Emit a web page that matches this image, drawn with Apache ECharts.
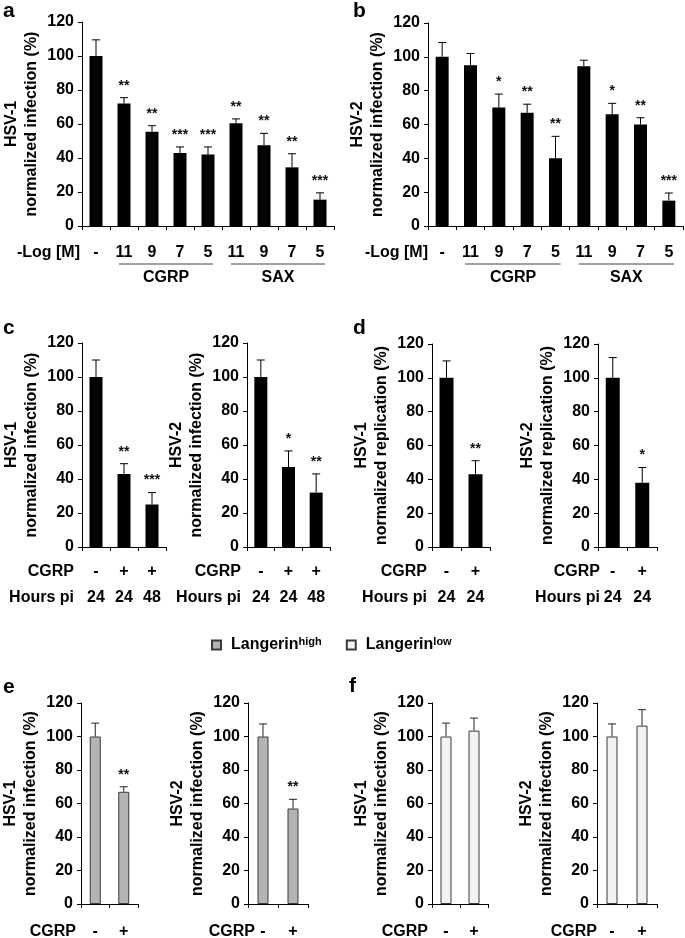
<!DOCTYPE html>
<html><head><meta charset="utf-8">
<script src="https://cdn.jsdelivr.net/npm/echarts@6/dist/echarts.min.js"></script>
<style>html,body{margin:0;padding:0;background:#fff}#c{width:685px;height:938px}</style>
</head><body><div id="c"></div>
<script>
// ---------- data ----------
const catsA = ['-','11','9','7','5','11','9','7','5'];
const meanA = [100,72,55.5,43,42,60.5,47.5,34.5,15.5];
const errA  = [9.5,3.5,3.5,3.5,4.5,2.5,7,8,4];
const starsA = ['','**','**','***','***','**','**','**','***'];

const catsB = ['-','11','9','7','5','11','9','7','5'];
const meanB = [100,95,70,67,40,94.5,66,60,15];
const errB  = [8.5,7,8,5,13,3.5,6.5,4,4.5];
const starsB = ['','','*','**','**','','*','**','***'];

const groupNames = ['CGRP','SAX'];
const groupStart = [1,5];
const groupEnd   = [4,8];

const cgrpC  = ['-','+','+'];
const hoursC = ['24','24','48'];
const meanC1 = [100,43,25];   const errC1 = [10,6,7];     const starsC1 = ['','**','***'];
const meanC2 = [100,47,32];   const errC2 = [10,9.5,11];  const starsC2 = ['','*','**'];

const cgrpD  = ['-','+'];
const hoursD = ['24','24'];
const meanD1 = [100,43];      const errD1 = [10,8];       const starsD1 = ['','**'];
const meanD2 = [100,38];      const errD2 = [12,9];       const starsD2 = ['','*'];

const cgrpEF = ['-','+'];
const meanE1 = [100,67];      const errE1 = [8,3];        const starsE1 = ['','**'];
const meanE2 = [100,57];      const errE2 = [7.5,5.5];    const starsE2 = ['','**'];
const meanF1 = [100,103.5];   const errF1 = [8,7.5];      const starsF1 = ['',''];
const meanF2 = [100,106.5];   const errF2 = [7.5,9.5];    const starsF2 = ['',''];

const yMin = 0, yMax = 120, yStep = 20;
const legendNames = ['Langerin high','Langerin low'];

// ---------- layout ----------
const FONT = '"Liberation Sans", Arial, Helvetica, sans-serif';
const FS = 16;
const two = (a,b) => a.map((v,i) => v + '\n' + b[i]);
const panels = [
  {rect:[82,22,252,204],  cats:catsA, mean:meanA, err:errA, stars:starsA, yName:'HSV-1\nnormalized infection (%)', xName:'-Log [M]', gap:2, margin:14, barW:13, fill:'#000', edge:'#000', groups:true},
  {rect:[428,23,255,203], cats:catsB, mean:meanB, err:errB, stars:starsB, yName:'HSV-2\nnormalized infection (%)', xName:'-Log [M]', gap:0, margin:14, barW:13, fill:'#000', edge:'#000', groups:true},
  {rect:[82,343,84,204],  cats:two(cgrpC,hoursC), mean:meanC1, err:errC1, stars:starsC1, yName:'HSV-1\nnormalized infection (%)', xName:'CGRP\nHours pi', gap:8, margin:12, barW:13, fill:'#000', edge:'#000'},
  {rect:[247,343,83,204], cats:two(cgrpC,hoursC), mean:meanC2, err:errC2, stars:starsC2, yName:'HSV-2\nnormalized infection (%)', xName:'CGRP\nHours pi', gap:6, margin:12, barW:13, fill:'#000', edge:'#000'},
  {rect:[432,344,58,203], cats:two(cgrpD,hoursD), mean:meanD1, err:errD1, stars:starsD1, yName:'HSV-1\nnormalized replication (%)', xName:'CGRP\nHours pi', gap:5, margin:12, barW:14, fill:'#000', edge:'#000'},
  {rect:[598,344,59,203], cats:two(cgrpD,hoursD), mean:meanD2, err:errD2, stars:starsD2, yName:'HSV-2\nnormalized replication (%)', xName:'CGRP\nHours pi', gap:-2, margin:12, barW:14, fill:'#000', edge:'#000'},
  {rect:[81,703,57,201],  cats:cgrpEF, mean:meanE1, err:errE1, stars:starsE1, yName:'HSV-1\nnormalized infection (%)', xName:'CGRP', gap:5, margin:15, barW:11, fill:'#b4b4b4', edge:'#3a3a3a', sname:legendNames[0]},
  {rect:[248,703,60,201], cats:cgrpEF, mean:meanE2, err:errE2, stars:starsE2, yName:'HSV-2\nnormalized infection (%)', xName:'CGRP', gap:-7, margin:15, barW:11, fill:'#b4b4b4', edge:'#3a3a3a', sname:legendNames[0]},
  {rect:[432,703,56,201], cats:cgrpEF, mean:meanF1, err:errF1, stars:starsF1, yName:'HSV-1\nnormalized infection (%)', xName:'CGRP', gap:4, margin:15, barW:11, fill:'#f2f2f2', edge:'#3a3a3a', sname:legendNames[1]},
  {rect:[597,703,60,201], cats:cgrpEF, mean:meanF2, err:errF2, stars:starsF2, yName:'HSV-2\nnormalized infection (%)', xName:'CGRP', gap:0, margin:15, barW:11, fill:'#f2f2f2', edge:'#3a3a3a', sname:legendNames[1]}
];

function errRender(stars, color) {
  return function (params, api) {
    const x = api.value(0);
    const p0 = api.coord([x, api.value(1)]);
    const p1 = api.coord([x, api.value(2)]);
    const cap = 4;
    const ch = [
      {type:'line', shape:{x1:p0[0], y1:p0[1], x2:p1[0], y2:p1[1]}, style:{stroke:color, lineWidth:1}},
      {type:'line', shape:{x1:p1[0]-cap, y1:p1[1], x2:p1[0]+cap, y2:p1[1]}, style:{stroke:color, lineWidth:1}}
    ];
    const s = stars[params.dataIndex];
    if (s) ch.push({type:'text', style:{text:s, x:p1[0], y:p1[1]-5, align:'center', verticalAlign:'bottom',
      fontSize:14, fontWeight:'bold', fontFamily:FONT, fill:'#111'}});
    return {type:'group', children:ch};
  };
}
function bracketRender(params, api) {
  const s = api.coord([api.value(0), 0]);
  const e = api.coord([api.value(1), 0]);
  const bw = api.size([1, 0])[0];
  const x1 = s[0] - bw/2 + 9, x2 = e[0] + bw/2 - 9, y = s[1] + 38;
  return {type:'group', children:[
    {type:'line', shape:{x1:x1, y1:y, x2:x2, y2:y}, style:{stroke:'#444', lineWidth:1}},
    {type:'text', style:{text:groupNames[params.dataIndex], x:(x1+x2)/2, y:y+14, align:'center', verticalAlign:'middle',
      fontSize:FS, fontWeight:'bold', fontFamily:FONT, fill:'#000'}}
  ]};
}

const grid = [], xAxis = [], yAxis = [], series = [];
panels.forEach((p, i) => {
  grid.push({left:p.rect[0], top:p.rect[1], width:p.rect[2], height:p.rect[3], containLabel:false, outerBoundsMode:'none'});
  xAxis.push({type:'category', gridIndex:i, data:p.cats, boundaryGap:true,
    axisLine:{show:true, lineStyle:{color:'#000', width:1}},
    axisTick:{show:true, length:4, interval:0, alignWithLabel:false, lineStyle:{color:'#000'}},
    axisLabel:{interval:0, margin:p.margin, lineHeight:26, fontSize:FS, fontWeight:'bold', fontFamily:FONT, color:'#000'},
    name:p.xName, nameLocation:'start', nameGap:p.gap, nameMoveOverlap:false,
    nameTextStyle:{align:'right', verticalAlign:'top', lineHeight:26, padding:[p.margin,0,0,0], fontSize:FS, fontWeight:'bold', fontFamily:FONT, color:'#000'},
    splitLine:{show:false}});
  yAxis.push({type:'value', gridIndex:i, min:yMin, max:yMax, interval:yStep,
    axisLine:{show:true, lineStyle:{color:'#000', width:1}},
    axisTick:{show:true, length:4, lineStyle:{color:'#000'}},
    axisLabel:{margin:8, fontSize:FS, fontWeight:'bold', fontFamily:FONT, color:'#000'},
    splitLine:{show:false},
    name:p.yName, nameLocation:'middle', nameGap:40, nameRotate:90, nameMoveOverlap:false,
    nameTextStyle:{fontSize:FS, fontWeight:'bold', lineHeight:20, fontFamily:FONT, color:'#000'}});
  series.push({type:'bar', name:p.sname || ('bars' + i), xAxisIndex:i, yAxisIndex:i, data:p.mean, barWidth:p.barW,
    itemStyle:{color:p.fill, borderColor:p.edge, borderWidth:p.sname ? 1 : 0}, silent:true, z:2});
  series.push({type:'custom', name:'err' + i, xAxisIndex:i, yAxisIndex:i, z:3, silent:true,
    data:p.mean.map((m, k) => [k, m, m + p.err[k]]), encode:{x:0, y:[1,2]},
    renderItem:errRender(p.stars, p.sname ? '#222' : '#000')});
  if (p.groups) series.push({type:'custom', name:'grp' + i, xAxisIndex:i, yAxisIndex:i, silent:true, z:3,
    data:groupStart.map((s, k) => [s, groupEnd[k]]), encode:{x:[0,1]}, renderItem:bracketRender});
});

const letters = [['a',3,19],['b',353,19],['c',3,336],['d',353,336],['e',3,695],['f',349,694]];
const chart = echarts.init(document.getElementById('c'), null, {renderer:'canvas'});
chart.setOption({
  animation:false,
  backgroundColor:'#fff',
  textStyle:{fontFamily:FONT},
  grid, xAxis, yAxis, series,
  legend:{data:legendNames, left:211, top:636, padding:0, itemWidth:9, itemHeight:9, itemGap:24, icon:'rect',
    selectedMode:false,
    formatter: n => n === legendNames[0] ? '{b|Langerin}{s|high}' : '{b|Langerin}{s|low}',
    textStyle:{padding:[0,0,0,5], rich:{
      b:{fontSize:16, fontWeight:'bold', fontFamily:FONT, color:'#000', lineHeight:18},
      s:{fontSize:11, fontWeight:'bold', fontFamily:FONT, color:'#000', verticalAlign:'top', lineHeight:10}}}},
  graphic: letters.map(l => ({type:'text', left:l[1], top:l[2]-18, style:{text:l[0], fontSize:21, fontWeight:'bold', fontFamily:FONT, fill:'#000'}}))
});
</script></body></html>
